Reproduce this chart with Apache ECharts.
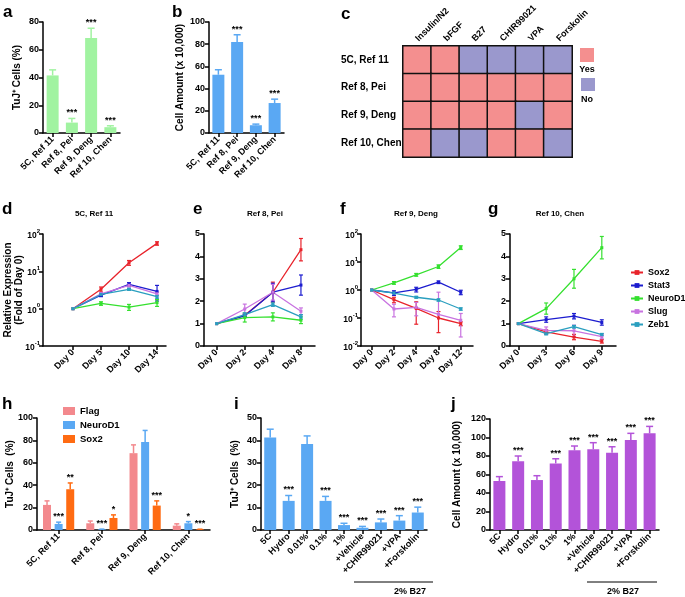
<!DOCTYPE html>
<html>
<head>
<meta charset="utf-8">
<script src="https://cdn.jsdelivr.net/npm/echarts@6/dist/echarts.min.js"></script>
<style>
  html, body { margin: 0; padding: 0; background: #fff; }
  #chart { width: 685px; height: 597px; }
</style>
</head>
<body>
<div id="chart"></div>
<script>
// ---------- data ----------
const refs = ['5C, Ref 11', 'Ref 8, Pei', 'Ref 9, Deng', 'Ref 10, Chen'];

// a: TuJ+ cells (%)
const tujA = [41.5, 7.5, 68.5, 4.2];
const tujAErr = [4, 3, 7, 1];
const starsA = ['', '***', '***', '***'];

// b: cell amount (x 10,000)
const cellB = [52.5, 82, 7, 27];
const cellBErr = [4.5, 6.5, 1, 3.5];
const starsB = ['', '***', '***', '***'];

// c: components used (1 = yes, 0 = no)
const factors = ['Insulin/N2', 'bFGF', 'B27', 'CHIR99021', 'VPA', 'Forskolin'];
const use5C = [1, 1, 0, 0, 0, 0];
const usePei = [1, 1, 1, 1, 1, 1];
const useDeng = [1, 1, 1, 1, 0, 1];
const useChen = [1, 0, 0, 1, 1, 0];

// d-g: relative expression, gene order = genes
const genes = ['Sox2', 'Stat3', 'NeuroD1', 'Slug', 'Zeb1'];
const geneColors = ['#e8232b', '#1c1ccf', '#35e02f', '#c873e0', '#2a9fbf'];

const daysD = ['Day 0', 'Day 5', 'Day 10', 'Day 14'];
const exprD = [
  [1, 3.3, 17, 56],
  [1, 2.3, 4.5, 2.9],
  [1, 1.38, 1.1, 1.45],
  [1, 2.5, 4.2, 2.5],
  [1, 2.4, 3.3, 2.1]
];
const errD = [
  [0, 0.5, 2.5, 6],
  [0, 0.2, 0.5, 1.3],
  [0, 0.15, 0.2, 0.3],
  [0, 0.2, 0.4, 0.3],
  [0, 0.15, 0.2, 0.2]
];

const daysE = ['Day 0', 'Day 2', 'Day 4', 'Day 8'];
const exprE = [
  [1, 1.37, 2.4, 4.3],
  [1, 1.35, 2.4, 2.72],
  [1, 1.27, 1.3, 1.15],
  [1, 1.65, 2.4, 1.55],
  [1, 1.4, 1.85, 1.3]
];
const errE = [
  [0, 0.05, 0.45, 0.5],
  [0, 0.05, 0.4, 0.45],
  [0, 0.2, 0.18, 0.15],
  [0, 0.22, 0.35, 0.15],
  [0, 0.08, 0.08, 0.1]
];

const daysF = ['Day 0', 'Day 2', 'Day 4', 'Day 8', 'Day 12'];
const exprF = [
  [1, 0.45, 0.22, 0.10, 0.063],
  [1, 0.79, 1.05, 1.9, 0.83],
  [1, 1.8, 3.5, 6.9, 33],
  [1, 0.21, 0.24, 0.135, 0.083],
  [1, 0.78, 0.55, 0.44, 0.21]
];
const errF = [
  [0, 0.1, 0.16, 0.07, 0.01],
  [0, 0.15, 0.2, 0.2, 0.15],
  [0, 0.2, 0.4, 1, 5],
  [0, 0.1, 0.12, 0.7, 0.062],
  [0, 0.05, 0.04, 0.04, 0.02]
];

const daysG = ['Day 0', 'Day 3', 'Day 6', 'Day 9'];
const exprG = [
  [1, 0.63, 0.40, 0.21],
  [1, 1.18, 1.33, 1.05],
  [1, 1.67, 3.0, 4.39],
  [1, 0.7, 0.68, 0.42],
  [1, 0.55, 0.86, 0.51]
];
const errG = [
  [0, 0.1, 0.12, 0.08],
  [0, 0.12, 0.12, 0.12],
  [0, 0.25, 0.42, 0.5],
  [0, 0.15, 0.25, 0.1],
  [0, 0.05, 0.06, 0.05]
];

// h: TuJ+ cells after overexpression
const flagH = [22.4, 6, 68.6, 3.9];
const flagHErr = [3.6, 2, 7.4, 1.6];
const neuroH = [5.4, 0.5, 78.5, 6];
const neuroHErr = [1.6, 0.3, 10.4, 1.5];
const sox2H = [36.4, 10.7, 21.8, 0.5];
const sox2HErr = [5.6, 2.8, 4.2, 0.2];
const starsFlagH = ['', '', '', ''];
const starsNeuroH = ['***', '***', '', '*'];
const starsSox2H = ['**', '*', '***', '***'];

// i, j: conditions
const conds = ['5C', 'Hydro', '0.01%', '0.1%', '1%', '+Vehicle', '+CHIR99021', '+VPA', '+Forskolin'];
const tujI = [41.3, 13, 38.4, 13, 2.2, 1.0, 3.4, 4.2, 7.8];
const tujIErr = [3.7, 2.4, 3.6, 2, 0.8, 0.6, 1.5, 2.2, 2.4];
const starsI = ['', '***', '', '***', '***', '***', '***', '***', '***'];
const cellJ = [53, 74.2, 54, 72, 86.1, 87.2, 83.6, 97.3, 104.5];
const cellJErr = [4.7, 5.8, 4.7, 5, 4.7, 7.2, 6.4, 7.2, 7.5];
const starsJ = ['', '***', '', '***', '***', '***', '***', '***', '***'];

// ---------- styling ----------
const F = '"Liberation Sans", Arial, sans-serif';
const GREEN = '#a1f3a1', BLUE = '#5aa8f3', PINK = '#f3898d', ORANGE = '#ff6b12', PURPLE = '#b353d9';
const YES = '#f48f8f', NO = '#9a98cd';

const txt = { fontFamily: F, fontWeight: 'bold', color: '#000' };
const axisLine = { show: true, onZero: false, lineStyle: { color: '#000', width: 1.5 } };
const axisTick = { show: true, length: 4, lineStyle: { color: '#000', width: 1.5 } };

const logRich = {
  b: { ...txt, fontSize: 8.5, lineHeight: 12, verticalAlign: 'bottom' },
  e: { ...txt, fontSize: 6, lineHeight: 7, verticalAlign: 'top' }
};
const logLabel = v => '{b|10}{e|' + Math.round(Math.log10(v)) + '}';

function catX(k, data, rotate) {
  return {
    type: 'category', gridIndex: k, data: data,
    axisLine, axisTick: { ...axisTick, alignWithLabel: true },
    axisLabel: { ...txt, fontSize: 9, rotate: rotate, margin: 5, interval: 0 },
    splitLine: { show: false }
  };
}
function valX(k, days, min, max) {
  const idx = days.map((d, i) => i);
  return {
    type: 'value', gridIndex: k, min: min, max: max,
    axisLine, axisTick: { ...axisTick, customValues: idx },
    axisLabel: { ...txt, fontSize: 9, rotate: 45, margin: 5, customValues: idx, formatter: v => days[v] },
    splitLine: { show: false }
  };
}
function valY(k, max, interval, name, gap) {
  return {
    type: 'value', gridIndex: k, min: 0, max: max, interval: interval,
    name: name, nameLocation: 'middle', nameGap: gap, nameMoveOverlap: false,
    nameTextStyle: { ...txt, fontSize: 10, lineHeight: 11 },
    axisLine, axisTick, axisLabel: { ...txt, fontSize: 9, margin: 4 },
    splitLine: { show: false }
  };
}
function logY(k, min, name, gap) {
  return {
    type: 'log', logBase: 10, gridIndex: k, min: min, max: 100,
    name: name, nameLocation: 'middle', nameGap: gap, nameMoveOverlap: false,
    nameTextStyle: { ...txt, fontSize: 10, lineHeight: 10.5 },
    axisLine, axisTick, minorTick: { show: false },
    axisLabel: { formatter: logLabel, rich: logRich, margin: 3 },
    splitLine: { show: false }
  };
}

// error whisker above a bar, plus significance stars
function barErr(k, vals, errs, stars, color, offset, capW) {
  return {
    type: 'custom', xAxisIndex: k, yAxisIndex: k, z: 3, silent: true,
    data: vals.map((v, i) => [i, v, errs[i]]),
    encode: { x: 0, y: 1 },
    renderItem: (params, api) => {
      const p0 = api.coord([api.value(0), api.value(1)]);
      const p1 = api.coord([api.value(0), api.value(1) + api.value(2)]);
      const x = p0[0] + offset;
      const st = { stroke: color, lineWidth: 1.5 };
      const kids = [
        { type: 'line', shape: { x1: x, y1: p0[1], x2: x, y2: p1[1] }, style: st },
        { type: 'line', shape: { x1: x - capW / 2, y1: p1[1], x2: x + capW / 2, y2: p1[1] }, style: st }
      ];
      const s = stars[params.dataIndex];
      if (s) {
        kids.push({ type: 'text', x: x, y: p1[1] - 1,
          style: { text: s, font: 'bold 9px ' + F, fill: '#000', align: 'center', verticalAlign: 'bottom',
                   textAlign: 'center', textVerticalAlign: 'bottom' } });
      }
      return { type: 'group', children: kids };
    }
  };
}

// symmetric error bars on line points
function lineErr(k, vals, errs, color) {
  return {
    type: 'custom', xAxisIndex: k, yAxisIndex: k, z: 2, silent: true,
    data: vals.map((v, i) => [i, v, errs[i]]),
    encode: { x: 0, y: 1 },
    renderItem: (params, api) => {
      const x = api.value(0), v = api.value(1), e = api.value(2);
      if (!e) return null;
      const hi = api.coord([x, v + e]);
      const hasLo = v - e > 0;
      const lo = api.coord([x, hasLo ? v - e : v]);
      const st = { stroke: color, lineWidth: 1.2 };
      const kids = [
        { type: 'line', shape: { x1: hi[0], y1: hi[1], x2: lo[0], y2: lo[1] }, style: st },
        { type: 'line', shape: { x1: hi[0] - 2, y1: hi[1], x2: hi[0] + 2, y2: hi[1] }, style: st }
      ];
      if (hasLo) kids.push({ type: 'line', shape: { x1: lo[0] - 2, y1: lo[1], x2: lo[0] + 2, y2: lo[1] }, style: st });
      return { type: 'group', children: kids };
    }
  };
}

function linePanel(k, expr, errs) {
  const out = [];
  genes.forEach((g, gi) => {
    out.push({
      type: 'line', name: g, xAxisIndex: k, yAxisIndex: k, z: 3,
      data: expr[gi].map((v, i) => [i, v]),
      symbol: 'rect', symbolSize: 3,
      lineStyle: { width: 1.3, color: geneColors[gi] },
      itemStyle: { color: geneColors[gi] }
    });
    out.push(lineErr(k, expr[gi], errs[gi], geneColors[gi]));
  });
  return out;
}

// ---------- series ----------
const series = [];
series.push(...linePanel(3, exprD, errD));
series.push(...linePanel(4, exprE, errE));
series.push(...linePanel(5, exprF, errF));
series.push(...linePanel(6, exprG, errG));

series.push({ type: 'bar', xAxisIndex: 0, yAxisIndex: 0, data: tujA, barWidth: 12, itemStyle: { color: GREEN } });
series.push(barErr(0, tujA, tujAErr, starsA, GREEN, 0, 7));
series.push({ type: 'bar', xAxisIndex: 1, yAxisIndex: 1, data: cellB, barWidth: 12, itemStyle: { color: BLUE } });
series.push(barErr(1, cellB, cellBErr, starsB, BLUE, 0, 7));

const heatData = [];
[use5C, usePei, useDeng, useChen].forEach((row, r) => row.forEach((v, c) => heatData.push([c, r, v])));
const heatIndex = series.length;
series.push({
  type: 'heatmap', xAxisIndex: 2, yAxisIndex: 2, data: heatData,
  itemStyle: { borderColor: '#111', borderWidth: 1.5 }
});

const hW = 8, hStep = 11.6;
series.push({ type: 'bar', name: 'Flag', xAxisIndex: 7, yAxisIndex: 7, data: flagH, barWidth: hW, barGap: '45%', itemStyle: { color: PINK } });
series.push({ type: 'bar', name: 'NeuroD1', xAxisIndex: 7, yAxisIndex: 7, data: neuroH, barWidth: hW, barGap: '45%', itemStyle: { color: BLUE } });
series.push({ type: 'bar', name: 'Sox2', xAxisIndex: 7, yAxisIndex: 7, data: sox2H, barWidth: hW, barGap: '45%', itemStyle: { color: ORANGE } });
series.push(barErr(7, flagH, flagHErr, starsFlagH, PINK, -hStep, 5));
series.push(barErr(7, neuroH, neuroHErr, starsNeuroH, BLUE, 0, 5));
series.push(barErr(7, sox2H, sox2HErr, starsSox2H, ORANGE, hStep, 5));

series.push({ type: 'bar', xAxisIndex: 8, yAxisIndex: 8, data: tujI, barWidth: 12, itemStyle: { color: BLUE } });
series.push(barErr(8, tujI, tujIErr, starsI, BLUE, 0, 7));
series.push({ type: 'bar', xAxisIndex: 9, yAxisIndex: 9, data: cellJ, barWidth: 12, itemStyle: { color: PURPLE } });
series.push(barErr(9, cellJ, cellJErr, starsJ, PURPLE, 0, 7));

// ---------- annotations ----------
const letters = [['a', 3, 4], ['b', 172, 4], ['c', 341, 6], ['d', 2, 201], ['e', 193, 201],
                 ['f', 340, 201], ['g', 488, 201], ['h', 2, 396], ['i', 234, 396], ['j', 451, 396]];
const titles = [['5C, Ref 11', 94], ['Ref 8, Pei', 265], ['Ref 9, Deng', 416], ['Ref 10, Chen', 560]];
const graphic = [];
letters.forEach(([t, x, y]) => graphic.push({
  type: 'text', x: x, y: y,
  style: { text: t, font: 'bold 17px ' + F, fill: '#000', textVerticalAlign: 'top', verticalAlign: 'top' }
}));
titles.forEach(([t, x]) => graphic.push({
  type: 'text', x: x, y: 214,
  style: { text: t, font: 'bold 8px ' + F, fill: '#000', align: 'center', verticalAlign: 'middle',
           textAlign: 'center', textVerticalAlign: 'middle' }
}));
// yes / no key of panel c
graphic.push({ type: 'rect', shape: { x: 580, y: 48, width: 14, height: 14 }, style: { fill: YES } });
graphic.push({ type: 'rect', shape: { x: 581, y: 78, width: 14, height: 13 }, style: { fill: NO } });
[['Yes', 70], ['No', 100]].forEach(([t, y]) => graphic.push({
  type: 'text', x: 587, y: y,
  style: { text: t, font: 'bold 9px ' + F, fill: '#000', align: 'center', verticalAlign: 'middle',
           textAlign: 'center', textVerticalAlign: 'middle' }
}));
// "2% B27" brackets under i and j
[[354, 433, 410], [587, 657, 623]].forEach(([x1, x2, xc]) => {
  graphic.push({ type: 'line', shape: { x1: x1, y1: 582, x2: x2, y2: 582 }, style: { stroke: '#000', lineWidth: 1 } });
  graphic.push({ type: 'text', x: xc, y: 592,
    style: { text: '2% B27', font: 'bold 9px ' + F, fill: '#000', align: 'center', verticalAlign: 'middle',
             textAlign: 'center', textVerticalAlign: 'middle' } });
});

const chart = echarts.init(document.getElementById('chart'));
chart.setOption({
  animation: false,
  backgroundColor: '#fff',
  grid: [
    { left: 43, top: 22, width: 77, height: 111 },
    { left: 209, top: 22, width: 75, height: 111 },
    { left: 403, top: 46, width: 169, height: 111 },
    { left: 43, top: 234, width: 123, height: 112 },
    { left: 204, top: 234, width: 111, height: 112 },
    { left: 361, top: 234, width: 112, height: 112 },
    { left: 510, top: 234, width: 106, height: 112 },
    { left: 37, top: 418, width: 173, height: 112 },
    { left: 261, top: 418, width: 166, height: 112 },
    { left: 490, top: 419, width: 169, height: 111 }
  ],
  xAxis: [
    catX(0, refs, 45),
    catX(1, refs, 45),
    { type: 'category', gridIndex: 2, position: 'top', data: factors,
      axisLine: { show: false }, axisTick: { show: false },
      axisLabel: { ...txt, fontSize: 9, rotate: -45, margin: 6, interval: 0 } },
    valX(3, daysD, -1.07, 3.32),
    valX(4, daysE, -0.45, 3.5),
    valX(5, daysF, -0.48, 4.55),
    valX(6, daysG, -0.3, 3.51),
    catX(7, refs, 45),
    catX(8, conds, 45),
    catX(9, conds, 45)
  ],
  yAxis: [
    valY(0, 80, 20, 'TuJ⁺ Cells (%)', 20),
    valY(1, 100, 20, 'Cell Amount (x 10,000)', 23),
    { type: 'category', gridIndex: 2, data: refs, inverse: true,
      axisLine: { show: false }, axisTick: { show: false },
      axisLabel: { ...txt, fontSize: 10, align: 'left', margin: 62 } },
    logY(3, 0.1, 'Relative Expression\n(Fold of Day 0)', 19),
    valY(4, 5, 1, '', 20),
    logY(5, 0.01, '', 20),
    valY(6, 5, 1, '', 20),
    valY(7, 100, 20, 'TuJ⁺ Cells  (%)', 21),
    valY(8, 50, 10, 'TuJ⁺ Cells  (%)', 20),
    valY(9, 120, 20, 'Cell Amount (x 10,000)', 27)
  ],
  visualMap: [{
    type: 'piecewise', show: false, seriesIndex: heatIndex, dimension: 2,
    pieces: [{ value: 1, color: YES }, { value: 0, color: NO }]
  }],
  legend: [
    { data: genes, orient: 'vertical', left: 625, top: 263, itemWidth: 12, itemHeight: 6, itemGap: 4,
      textStyle: { ...txt, fontSize: 9 } },
    { data: [{ name: 'Flag', icon: 'rect', itemStyle: { color: PINK } },
             { name: 'NeuroD1', icon: 'rect', itemStyle: { color: BLUE } },
             { name: 'Sox2', icon: 'rect', itemStyle: { color: ORANGE } }],
      orient: 'vertical', left: 58, top: 401, itemWidth: 12, itemHeight: 8, itemGap: 4,
      textStyle: { ...txt, fontSize: 9.5 } }
  ],
  graphic: graphic,
  series: series
});
</script>
</body>
</html>
